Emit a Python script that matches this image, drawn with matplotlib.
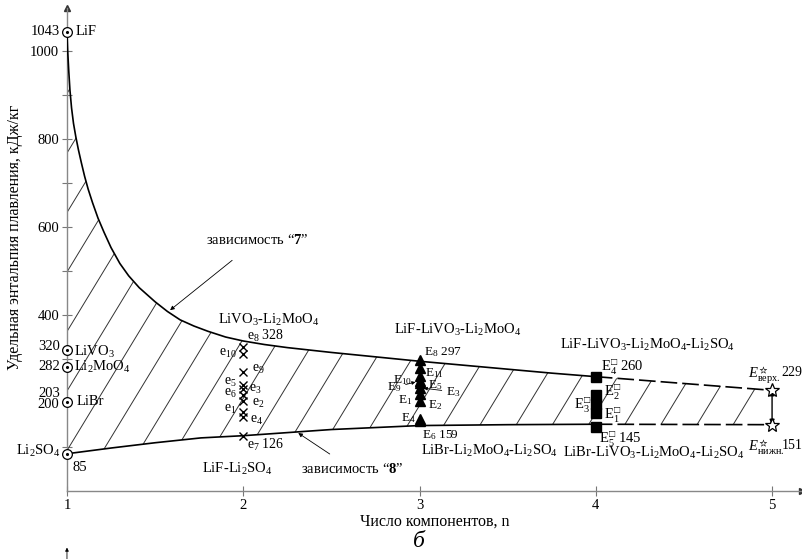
import numpy as np
import matplotlib
matplotlib.use('Agg')
import matplotlib.pyplot as plt
from matplotlib.patches import Polygon

plt.rcParams.update({
    'font.family': ['Liberation Serif', 'DejaVu Serif'],
    'font.size': 10.5,
    'mathtext.fontset': 'custom',
    'mathtext.rm': 'Liberation Serif',
    'mathtext.it': 'Liberation Serif:italic',
    'mathtext.bf': 'Liberation Serif:bold',
    'mathtext.fallback': 'stix',
})

# ── данные ──
# чистые компоненты, n = 1
pure_names = ['LiF', 'LiVO$_3$', 'Li$_2$MoO$_4$', 'LiBr', 'Li$_2$SO$_4$']
pure_h = [1043, 320, 282, 203, 85]

# зависимость "7" (верхняя граница), сплошная до n = 4
curve7_n = [1.0, 1.004, 1.01, 1.017, 1.026, 1.037, 1.05, 1.065, 1.082, 1.1,
            1.12, 1.145, 1.176, 1.21, 1.25, 1.3, 1.35, 1.41, 1.5, 1.57,
            1.642, 1.72, 1.8, 1.9, 2.0, 2.12, 2.25, 2.5, 2.75, 3.0,
            3.25, 3.5, 3.75, 4.0]
curve7_h = [1043, 1000, 955, 910, 870, 835, 805, 775, 745, 715,
            686, 655, 620, 588, 553, 517, 489, 462, 430, 408,
            389, 375, 363, 350, 341, 333, 326, 315, 305, 295,
            286, 277, 268, 260]
curve7_ext_n = [4.0, 5.0]
curve7_ext_h = [260, 229]

# зависимость "8" (нижняя граница)
curve8_n = [1.0, 1.25, 1.5, 1.76, 2.0, 2.5, 3.0, 3.5, 4.0]
curve8_h = [85, 98, 110, 121, 126, 140, 149, 151, 152]
curve8_ext_n = [4.0, 5.0]
curve8_ext_h = [152, 151]

# двухкомпонентные эвтектики, n = 2
bin_labels = ['e$_1$', 'e$_2$', 'e$_3$', 'e$_4$', 'e$_5$', 'e$_6$',
              'e$_7$ 126', 'e$_8$ 328', 'e$_9$', 'e$_{10}$']
bin_h = [180, 205, 232, 168, 240, 218, 126, 328, 270, 312]

# трёхкомпонентные, n = 3
ter_labels = ['E$_1$', 'E$_2$', 'E$_3$', 'E$_4$', 'E$_5$', 'E$_6$ 159',
              'E$_8$ 297', 'E$_9$', 'E$_{10}$', 'E$_{11}$']
ter_h = [220, 205, 235, 165, 245, 159, 297, 250, 262, 280]

# четырёхкомпонентные, n = 4
quat_labels = ['E$_1^{□}$', 'E$_2^{□}$', 'E$_3^{□}$', 'E$_4^{□}$ 260', 'E$_5^{□}$ 145']
quat_h = [178, 218, 198, 260, 145]

# прогноз для n = 5
five_labels = [r'$E^{☆}_{\mathrm{верх.}}$', r'$E^{☆}_{\mathrm{нижн.}}$']
five_vals = ['229', '151']
five_h = [229, 151]

# ── подписи: смещения в пунктах ──
pure_off = [(6, 0), (5, -1), (5, 0), (7, 0), None]
pure_left = ['1043', '320', '282', '203', None]
pure_left_off = [(-5, 0), (-5, 3), (-5, 0), (-5, 6), None]
bin_off = [(-5, 1.5), (6, -2), (4, 0), (5, -2), (-5, 2.5), (-5, 1.5),
           (3, -7), (3, 8), (6, 2), (-5, 0)]
ter_off = [(-5, -4), (6, -3), (19, -3), (-3, 0), (6, -1), (2, -10),
           (3, 6), (-13, -4.5), (-5, -3), (4, -4)]
ter_arrow = [False, False, True, False, False, False, False, True, False, False]
quat_off = [(6, -2), (6, 2), (-3, -1), (4, 7), (2, -9)]
five_off = [(-17, 11), (-17, -16)]
five_val_off = [(22, 13), (22, -15)]

fig = plt.figure(figsize=(8.03, 5.59), dpi=100)
ax = fig.add_axes([0.0834, 0.1213, 0.9154, 0.8644])
ax.set_xlim(1, 5.17)
ax.set_ylim(0, 1097)

# ── штриховка между границами ──
poly_n = curve7_n + [5.0] + [5.0] + curve8_n[::-1]
poly_h = curve7_h + [229] + [151] + curve8_h[::-1]
region = Polygon(np.column_stack([poly_n, poly_h]), closed=True,
                 fill=False, edgecolor='none')
ax.add_patch(region)
slope = 659.0
for c in np.arange(0.86 - 0.205 * 7, 5.2, 0.205):
    ln, = ax.plot([c, c + 1200 / slope], [0, 1200], color='#333333', lw=0.7)
    ln.set_clip_path(region)

# ── границы ──
ax.plot(curve7_n, curve7_h, color='black', lw=1.2, zorder=3)
ax.plot(curve8_n, curve8_h, color='black', lw=1.2, zorder=3)
ax.plot(curve7_ext_n, curve7_ext_h, color='black', lw=1.2, dashes=(10, 3), zorder=3)
ax.plot(curve8_ext_n, curve8_ext_h, color='black', lw=1.2, dashes=(10, 3), zorder=3)

# ── чистые компоненты ──
ax.plot([1] * len(pure_h), pure_h, 'o', ms=7, mfc='white', mec='black', mew=0.9,
        clip_on=False, zorder=5)
ax.plot([1] * len(pure_h), pure_h, '.', ms=2.5, color='black', clip_on=False, zorder=6)
for name, h, off, lt, loff in zip(pure_names, pure_h, pure_off, pure_left, pure_left_off):
    if off is not None:
        ax.annotate(name, (1, h), xytext=off, textcoords='offset points',
                    ha='left', va='center')
    if lt is not None:
        ax.annotate(lt, (1, h), xytext=loff, textcoords='offset points',
                    ha='right', va='center')
ax.annotate('Li$_2$SO$_4$', (1, 85), xytext=(-5, 2), textcoords='offset points',
            ha='right', va='center')
ax.annotate('85', (1, 85), xytext=(4, -10), textcoords='offset points',
            ha='left', va='center')

# ── n = 2 ──
ax.plot([2] * len(bin_h), bin_h, 'x', ms=6, mew=1.0, color='black', zorder=5)
for lab, h, off in zip(bin_labels, bin_h, bin_off):
    ax.annotate(lab, (2, h), xytext=off, textcoords='offset points',
                ha='left' if off[0] > 0 else 'right', va='center', fontsize=10)

# ── n = 3 ──
ax.plot([3] * len(ter_h), ter_h, '^', ms=7, color='black', zorder=5)
for lab, h, off, arr in zip(ter_labels, ter_h, ter_off, ter_arrow):
    kw = {}
    if arr:
        kw['arrowprops'] = dict(arrowstyle='-|>', lw=0.6, color='black',
                                mutation_scale=5, shrinkA=1, shrinkB=3)
    ax.annotate(lab, (3, h), xytext=off, textcoords='offset points',
                ha='left' if off[0] > 0 else 'right', va='center', fontsize=9.5, **kw)

# ── n = 4 ──
ax.plot([4] * len(quat_h), quat_h, 's', ms=6.5, color='black', zorder=5)
for lab, h, off in zip(quat_labels, quat_h, quat_off):
    ax.annotate(lab, (4, h), xytext=off, textcoords='offset points',
                ha='left' if off[0] > 0 else 'right', va='center', fontsize=10.5)

# ── n = 5 ──
ax.annotate('', xy=(5, five_h[0]), xytext=(5, five_h[1]),
            arrowprops=dict(arrowstyle='<|-|>', lw=1.0, color='black',
                            mutation_scale=7, shrinkA=0, shrinkB=0))
ax.plot([5] * len(five_h), five_h, '*', ms=10, mfc='white', mec='black', mew=0.9,
        clip_on=False, zorder=6)
for lab, val, h, off, voff in zip(five_labels, five_vals, five_h, five_off, five_val_off):
    ax.annotate(lab, (5, h), xytext=off, textcoords='offset points',
                ha='left', va='center', fontsize=10.5, annotation_clip=False)
    ax.annotate(val, (5, h), xytext=voff, textcoords='offset points',
                ha='right', va='center', fontsize=10, annotation_clip=False)

# ── названия систем ──
sys_text = [
    (2.142, 389, 'LiVO$_3$-Li$_2$MoO$_4$'),
    (1.966, 51, 'LiF-Li$_2$SO$_4$'),
    (3.216, 366, 'LiF-LiVO$_3$-Li$_2$MoO$_4$'),
    (3.398, 91, 'LiBr-Li$_2$MoO$_4$-Li$_2$SO$_4$'),
    (4.295, 332, 'LiF-LiVO$_3$-Li$_2$MoO$_4$-Li$_2$SO$_4$'),
    (4.33, 86, 'LiBr-LiVO$_3$-Li$_2$MoO$_4$-Li$_2$SO$_4$'),
]
for x, y, t in sys_text:
    ax.text(x, y, t, ha='center', va='center', fontsize=10.5)

ax.annotate('зависимость “$\\mathbf{7}$”', xy=(1.585, 411), xytext=(2.08, 570),
            ha='center', va='center', fontsize=10.5,
            arrowprops=dict(arrowstyle='-|>', lw=0.6, color='black',
                            mutation_scale=6, shrinkA=12, shrinkB=0))
ax.annotate('зависимость “$\\mathbf{8}$”', xy=(2.312, 132), xytext=(2.62, 50),
            ha='center', va='center', fontsize=10.5,
            arrowprops=dict(arrowstyle='-|>', lw=0.6, color='black',
                            mutation_scale=6, shrinkA=7, shrinkB=0))

# ── оси ──
for s in ['top', 'right']:
    ax.spines[s].set_visible(False)
for s in ['left', 'bottom']:
    ax.spines[s].set_color('#888888')
    ax.spines[s].set_linewidth(1.0)
ax.plot(1, 0, '>', ms=4, color='#333333', transform=ax.transAxes, clip_on=False)
ax.plot(0, 1, '^', ms=4, color='#333333', transform=ax.transAxes, clip_on=False)

yt = np.arange(100, 1001, 100)
ax.set_yticks(yt)
ax.set_yticklabels([str(v) if v in (200, 400, 600, 800, 1000) else '' for v in yt])
ax.set_xticks([1, 2, 3, 4, 5])
ax.set_xticklabels(['1', '2', '3', '4', '5'])
ax.tick_params(direction='inout', length=7, width=0.8, color='#777777',
               labelsize=10.5, pad=2)

ax.set_xlabel('Число компонентов, n', fontsize=11.5, labelpad=1)
fig.text(0.019, 0.576, 'Удельная энтальпия плавления, кДж/кг', rotation=90,
         ha='center', va='center', fontsize=11.5)
fig.text(0.522, 0.032, 'б', ha='center', va='center', fontsize=17, style='italic')

# стрелка следующего рисунка внизу
ax.annotate('', xy=(1, -128), xytext=(1, -160), annotation_clip=False,
            arrowprops=dict(arrowstyle='-|>', lw=0.6, color='black',
                            mutation_scale=5, shrinkA=0, shrinkB=0))

fig.savefig('out.png', dpi=100, facecolor='white')
